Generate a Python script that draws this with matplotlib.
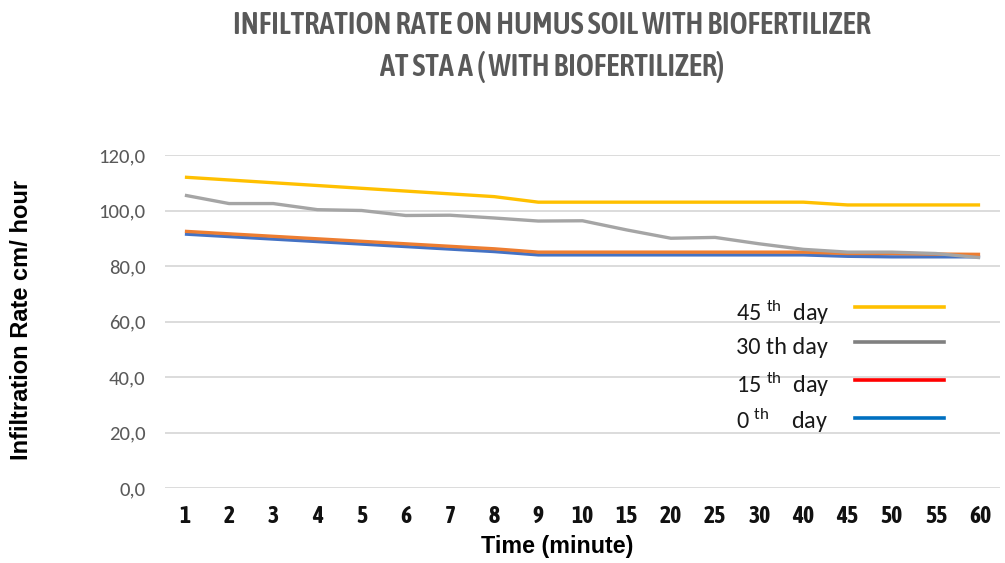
import matplotlib
matplotlib.use("Agg")
import matplotlib.pyplot as plt
from matplotlib.lines import Line2D
from matplotlib import font_manager as fm

available = {f.name for f in fm.fontManager.ttflist}


def pick(cands):
    for c in cands:
        if c in available:
            return c
    return 'DejaVu Sans'


COND = pick(['Carlito', 'Asap Condensed', 'Roboto Condensed', 'Liberation Sans Narrow'])
NARROW = pick(['Asap Condensed', 'Roboto Condensed', 'Barlow Semi Condensed', 'Carlito'])
ARIAL = pick(['Liberation Sans', 'Arimo', 'DejaVu Sans'])

plt.rcParams['font.family'] = [COND, 'DejaVu Sans']
plt.rcParams['mathtext.fontset'] = 'custom'
plt.rcParams['mathtext.rm'] = COND
plt.rcParams['mathtext.it'] = COND

time_labels = ["1", "2", "3", "4", "5", "6", "7", "8", "9", "10",
               "15", "20", "25", "30", "40", "45", "50", "55", "60"]

day45 = [112.0, 111.0, 110.0, 109.0, 108.0, 107.0, 106.0, 105.0, 103.0, 103.0,
         103.0, 103.0, 103.0, 103.0, 103.0, 102.0, 102.0, 102.0, 102.0]
day30 = [105.5, 102.5, 102.5, 100.3, 100.0, 98.2, 98.3, 97.3, 96.2, 96.3,
         93.0, 90.0, 90.3, 88.0, 86.0, 85.0, 85.0, 84.5, 83.0]
day15 = [92.5, 91.6, 90.7, 89.8, 88.9, 88.0, 87.1, 86.2, 85.0, 85.0,
         85.0, 85.0, 85.0, 85.0, 85.0, 84.5, 84.5, 84.3, 84.2]
day0 = [91.5, 90.6, 89.7, 88.8, 87.9, 87.0, 86.1, 85.2, 84.0, 84.0,
        84.0, 84.0, 84.0, 84.0, 84.0, 83.5, 83.3, 83.3, 83.3]

series_values = [day45, day30, day15, day0]
line_colors = ["#FFC000", "#A5A5A5", "#ED7D31", "#4472C4"]
legend_colors = ["#FFC000", "#808080", "#FF0000", "#0070C0"]
legend_labels = [r"45 $^{\mathrm{th}}$  day", "30 th day",
                 r"15 $^{\mathrm{th}}$  day", r"0 $^{\mathrm{th}}$    day"]

y_ticks = [0, 20, 40, 60, 80, 100, 120]

W, H = 1005, 563
fig = plt.figure(figsize=(W / 100, H / 100), dpi=100)
ax = fig.add_axes([165 / W, 1 - 488 / H, 835 / W, 333 / H])
renderer = fig.canvas.get_renderer()


def fit(t, target, dim='w'):
    bb = t.get_window_extent(renderer)
    cur = bb.width if dim == 'w' else bb.height
    t.set_fontsize(t.get_fontsize() * target / cur)
    return t.get_fontsize()


def probe_size(s, target, **kw):
    p = fig.text(0, 0, s, fontsize=15, **kw)
    size = fit(p, target)
    p.remove()
    return size


x = list(range(len(time_labels)))
zorders = [5, 4, 3, 2]
for vals, c, z in zip(series_values, line_colors, zorders):
    ax.plot(x, vals, color=c, lw=2.4, zorder=z, solid_capstyle='butt')

ax.set_xlim(-0.45, 18.45)
ax.set_ylim(0, 120)
ax.set_yticks(y_ticks)
yfs = probe_size("120,0", 47, family=[COND, 'DejaVu Sans'])
ax.set_yticklabels([f"{v:.1f}".replace(".", ",") for v in y_ticks],
                   fontsize=yfs, color="#595959", family=[COND, 'DejaVu Sans'])
ax.set_xticks(x)
xfs = probe_size("40", 22, fontweight='bold', family=[NARROW, 'DejaVu Sans'])
ax.set_xticklabels(time_labels, fontsize=xfs, fontweight='bold', color='#111111',
                   family=[NARROW, 'DejaVu Sans'])
ax.tick_params(axis='both', length=0)
ax.tick_params(axis='y', pad=14)
ax.tick_params(axis='x', pad=12)
ax.grid(axis='y', color='#D9D9D9', lw=1.3)
ax.set_axisbelow(True)
for s in ax.spines.values():
    s.set_visible(False)

xl = fig.text(557 / W, 1 - 546 / H, "Time (minute)", fontsize=15, fontweight='bold',
              family=[ARIAL, 'DejaVu Sans'], ha='center', va='center')
fit(xl, 153)
yl = fig.text(22 / W, 1 - 320 / H, "Infiltration Rate cm/ hour", rotation=90, fontsize=15,
              fontweight='bold', family=[ARIAL, 'DejaVu Sans'], ha='center', va='center')
fit(yl, 280, 'h')

t1 = fig.text(552 / W, 1 - 26 / H, "INFILTRATION RATE ON HUMUS SOIL WITH BIOFERTILIZER",
              ha='center', va='center', fontsize=18, fontweight=600, color='#595959',
              family=[NARROW, 'DejaVu Sans'])
fs = fit(t1, 637)
fig.text(552 / W, 1 - 67 / H, "AT STA A ( WITH BIOFERTILIZER)",
         ha='center', va='center', fontsize=fs, fontweight=600, color='#595959',
         family=[NARROW, 'DejaVu Sans'])

# custom legend
leg_text_y = [313, 348, 385, 421]
leg_line_y = [307, 342, 380, 418]
lfs = probe_size("30 th day", 92, family=[COND, 'DejaVu Sans'])
for lab, c, ty, ly in zip(legend_labels, legend_colors, leg_text_y, leg_line_y):
    fig.text(736 / W, 1 - ty / H, lab, fontsize=lfs, ha='left', va='center',
             color='#1a1a1a', family=[COND, 'DejaVu Sans'])
    fig.add_artist(Line2D([855 / W, 944 / W], [1 - ly / H, 1 - ly / H],
                          color=c, lw=2.6, transform=fig.transFigure))

fig.savefig("out.png", dpi=100)
